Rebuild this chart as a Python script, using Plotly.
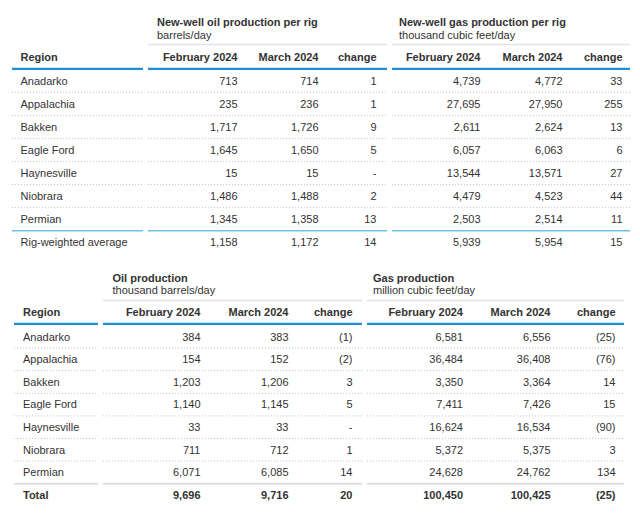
import plotly.graph_objects as go

# ---------------- data ----------------
regions = ["Anadarko", "Appalachia", "Bakken", "Eagle Ford", "Haynesville", "Niobrara", "Permian"]
col_labels = ["February 2024", "March 2024", "change"]

# top table: new-well production per rig
oil_rig_feb = [713, 235, 1717, 1645, 15, 1486, 1345]
oil_rig_mar = [714, 236, 1726, 1650, 15, 1488, 1358]
oil_rig_chg = [1, 1, 9, 5, 0, 2, 13]
gas_rig_feb = [4739, 27695, 2611, 6057, 13544, 4479, 2503]
gas_rig_mar = [4772, 27950, 2624, 6063, 13571, 4523, 2514]
gas_rig_chg = [33, 255, 13, 6, 27, 44, 11]
avg_label = "Rig-weighted average"
oil_rig_avg = [1158, 1172, 14]
gas_rig_avg = [5939, 5954, 15]

# bottom table: production
oil_prod_feb = [384, 154, 1203, 1140, 33, 711, 6071]
oil_prod_mar = [383, 152, 1206, 1145, 33, 712, 6085]
oil_prod_chg = [-1, -2, 3, 5, 0, 1, 14]
gas_prod_feb = [6581, 36484, 3350, 7411, 16624, 5372, 24628]
gas_prod_mar = [6556, 36408, 3364, 7426, 16534, 5375, 24762]
gas_prod_chg = [-25, -76, 14, 15, -90, 3, 134]
total_label = "Total"
oil_prod_tot = [9696, 9716, 20]
gas_prod_tot = [100450, 100425, -25]

top_groups = [("New-well oil production per rig", "barrels/day"),
              ("New-well gas production per rig", "thousand cubic feet/day")]
bot_groups = [("Oil production", "thousand barrels/day"),
              ("Gas production", "million cubic feet/day")]


def fmt(v):
    if v == 0:
        return "-"
    if v < 0:
        return "({:,})".format(-v)
    return "{:,}".format(v)


# ---------------- styling / layout ----------------
FONT = "Liberation Sans, Arial, sans-serif"
TXT = "#333333"
BLUE = "#1e90d8"
LBLUE = "#6cc3ea"
GRAY = "#e3e3e3"
DOT = "#c4c4c4"
TY = 1.0  # small vertical nudge for text baselines

fig = go.Figure()
shapes = []


def text_trace(xs, ys, texts, pos, bold=False, color=TXT, size=11):
    fig.add_trace(go.Scatter(
        x=xs, y=[v + TY for v in ys], text=texts, mode="text", textposition=pos,
        textfont=dict(family=FONT, size=size, color=color,
                      weight="bold" if bold else "normal"),
        hoverinfo="skip", showlegend=False))


def hline(x0, x1, y, color, width, dash="solid"):
    shapes.append(dict(type="line", xref="x", yref="y", x0=x0, x1=x1, y0=y, y1=y,
                       line=dict(color=color, width=width, dash=dash)))


def build_table(cfg, groups, cols, last_label, last_vals, last_bold, last_line):
    y0, step = cfg["row0"], cfg["step"]
    rows_y = [y0 + step * i for i in range(len(regions) + 1)]
    rx = cfg["region_x"]
    seg = cfg["segments"]  # region, oil, gas segments
    # group headers
    for (title, sub), gx in zip(groups, cfg["group_x"]):
        text_trace([gx], [cfg["title_y"]], [title], "middle right", bold=True)
        text_trace([gx], [cfg["sub_y"]], [sub], "middle right")
    for s in seg[1:]:
        hline(s[0], s[1], cfg["gray_y"], GRAY, 1.5)
    # column headers
    text_trace([rx], [cfg["head_y"]], ["Region"], "middle right", bold=True)
    hx = cfg["col_x"]
    text_trace(hx, [cfg["head_y"]] * len(hx), col_labels * 2, "middle left", bold=True)
    for s in seg:
        hline(s[0], s[1], cfg["blue_y"], BLUE, 2.2)
    # body
    text_trace([rx] * len(regions), rows_y[:-1], regions, "middle right")
    for ci, vals in enumerate(cols):
        text_trace([hx[ci]] * len(vals), rows_y[:-1], [fmt(v) for v in vals], "middle left")
    # last row
    text_trace([rx], [rows_y[-1]], [last_label], "middle right", bold=last_bold)
    text_trace(hx, [rows_y[-1]] * 6, [fmt(v) for v in last_vals], "middle left", bold=last_bold)
    # separators
    for i in range(len(regions) - 1):
        yy = (rows_y[i] + rows_y[i + 1]) / 2
        for s in seg:
            hline(s[0], s[1], yy, DOT, 1, "1px,2px")
    yy = (rows_y[-2] + rows_y[-1]) / 2
    for s in seg:
        hline(s[0], s[1], yy, last_line[0], last_line[1])


top_cfg = dict(row0=80.8, step=23.05, region_x=20.5, title_y=22.5, sub_y=35, gray_y=44.5,
               head_y=57, blue_y=68.8,
               group_x=[157, 399],
               col_x=[237.5, 318.5, 376.5, 480.5, 562.5, 622.5],
               segments=[(12, 143), (148, 387), (392, 630)])
bot_cfg = dict(row0=336.8, step=22.6, region_x=23, title_y=278, sub_y=290.5, gray_y=300.5,
               head_y=312.5, blue_y=323.8,
               group_x=[112.5, 373],
               col_x=[200.5, 288.5, 352.5, 463, 550.5, 615.5],
               segments=[(14, 98), (103, 362), (367, 624)])

build_table(top_cfg, top_groups,
            [oil_rig_feb, oil_rig_mar, oil_rig_chg, gas_rig_feb, gas_rig_mar, gas_rig_chg],
            avg_label, oil_rig_avg + gas_rig_avg, False, (LBLUE, 1.5))
build_table(bot_cfg, bot_groups,
            [oil_prod_feb, oil_prod_mar, oil_prod_chg, gas_prod_feb, gas_prod_mar, gas_prod_chg],
            total_label, oil_prod_tot + gas_prod_tot, True, ("#dedede", 2))

# the page body has an 8px margin, so the figure starts at (8, 8) in the window
fig.update_layout(
    width=632, height=510, autosize=False,
    margin=dict(l=0, r=0, t=0, b=0),
    paper_bgcolor="white", plot_bgcolor="white",
    xaxis=dict(range=[8, 640], visible=False, fixedrange=True),
    yaxis=dict(range=[518, 8], visible=False, fixedrange=True),
    shapes=shapes,
)

fig.write_html("out.html", config={"displayModeBar": False})
